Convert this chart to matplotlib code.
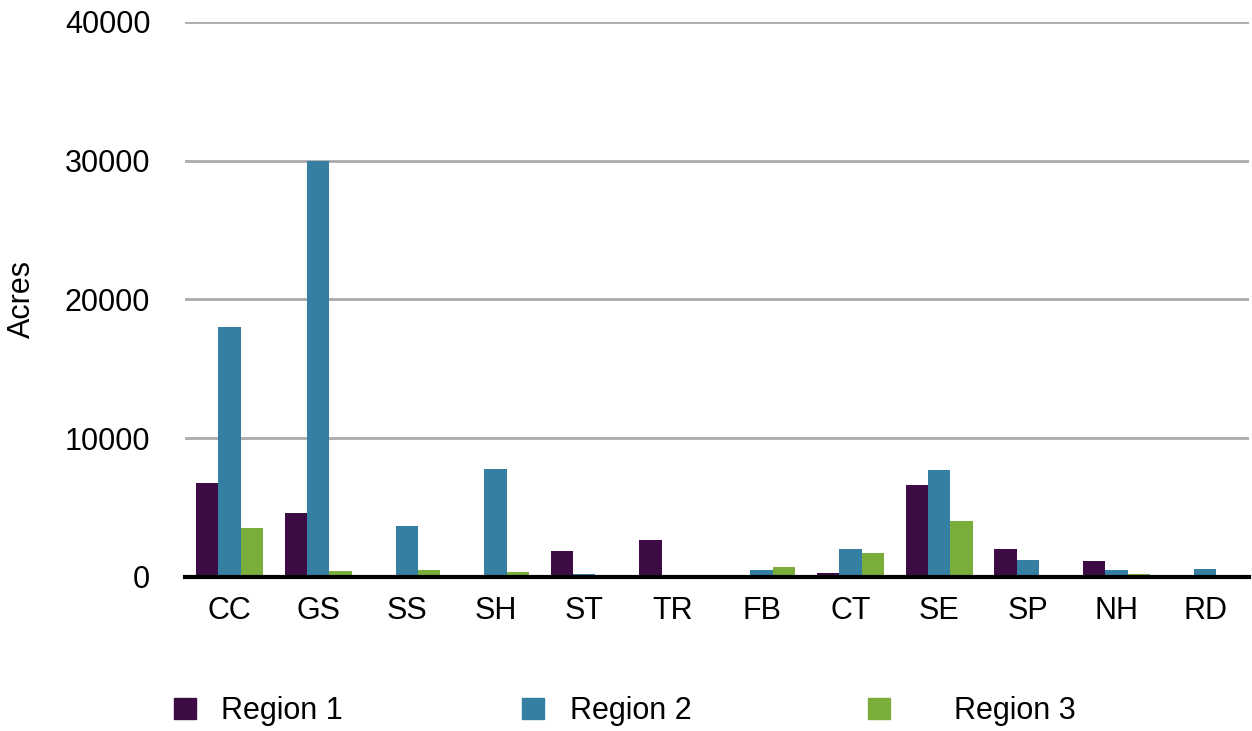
import numpy as np
import matplotlib.pyplot as plt
from matplotlib.patches import Patch

# Dados
categorias = ['CC', 'GS', 'SS', 'SH', 'ST', 'TR', 'FB', 'CT', 'SE', 'SP', 'NH', 'RD']
region1 = [6800, 4600, 0, 0, 1900, 2700, 0, 300, 6600, 2050, 1150, 150]
region2 = [18000, 30000, 3700, 7750, 220, 0, 500, 2050, 7700, 1250, 500, 600]
region3 = [3550, 450, 500, 350, 150, 0, 750, 1700, 4050, 150, 220, 0]
series = ['Region 1', 'Region 2', 'Region 3']
cores = ['#3d0c45', '#357fa3', '#7aad3a']

plt.rcParams['font.family'] = ['Liberation Sans', 'DejaVu Sans']
fs = 22

fig = plt.figure(figsize=(12.52, 7.31), dpi=100)
ax = fig.add_axes([0.1478, 0.2107, 0.8502, 0.7593])

x = np.arange(len(categorias))
w = 0.252
for i, vals in enumerate([region1, region2, region3]):
    ax.bar(x + (i - 1) * w, vals, width=w, color=cores[i], zorder=3)

ax.set_xlim(-0.5, len(categorias) - 0.5)
ax.set_ylim(0, 40000)
ax.set_yticks([0, 10000, 20000, 30000, 40000])
ax.set_xticks(x)
ax.set_xticklabels(categorias)
ax.tick_params(length=0, labelsize=fs)
ax.tick_params(axis='y', pad=25)
ax.tick_params(axis='x', pad=14)
ax.grid(axis='y', color='#aaaaaa', linewidth=2, zorder=0)
for s in ['left', 'right', 'top']:
    ax.spines[s].set_visible(False)
ax.spines['bottom'].set_color('black')
ax.spines['bottom'].set_linewidth(3)
ax.spines['bottom'].set_zorder(4)
ax.set_ylabel('Acres', fontsize=fs, labelpad=20)

# legenda manual, espacamento irregular como no original
pos = [(0.117, 0.82), (0.395, 0.85), (0.671, 2.1)]
for i in range(3):
    h = Patch(color=cores[i])
    fig.legend(handles=[h], labels=[series[i]], loc='center left',
               bbox_to_anchor=(pos[i][0], 0.027), frameon=False, fontsize=fs,
               handlelength=0.72, handleheight=0.72, handletextpad=pos[i][1])

fig.savefig('out.png', dpi=100)
